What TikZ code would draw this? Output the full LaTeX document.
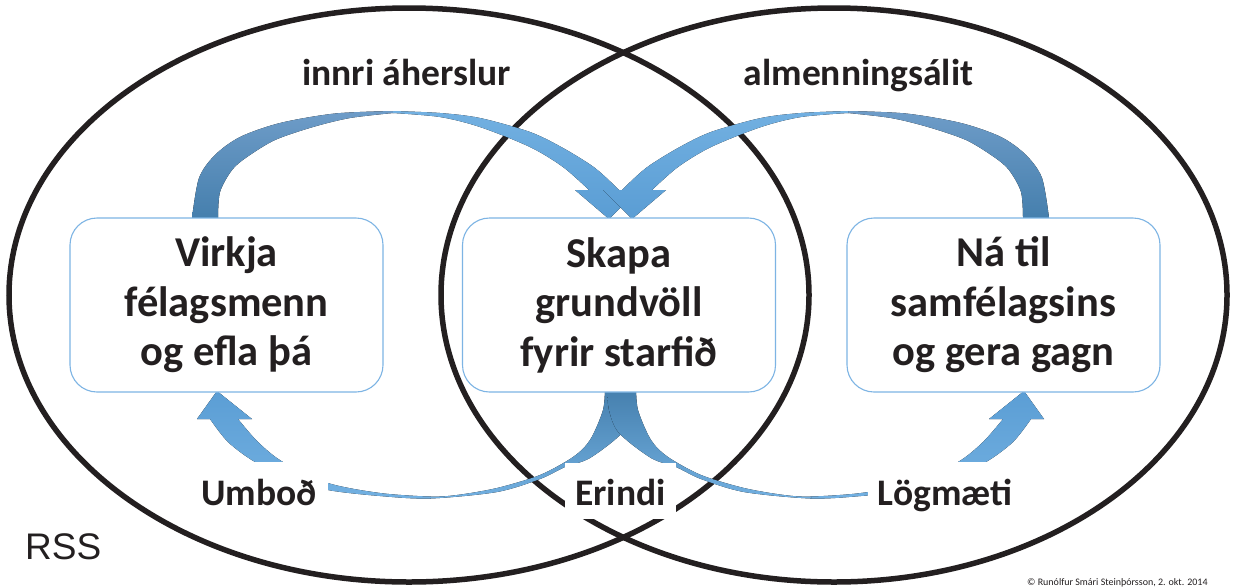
\documentclass[tikz,border=0pt]{standalone}
\usepackage{fontspec}
\setmainfont{Carlito}
\newfontfamily\rssfamily{Liberation Sans}
\definecolor{vennblack}{RGB}{35,31,32}
\definecolor{boxblue}{RGB}{125,180,228}
\definecolor{arrowdark}{RGB}{68,126,172}
\definecolor{arrowback}{RGB}{110,156,200}
\definecolor{arrowmid}{RGB}{90,157,212}
\definecolor{arrowlight}{RGB}{114,176,225}
\definecolor{textblack}{RGB}{35,31,32}

% top-left curved arrow (back part and front part)
\newcommand\tlbackpath{(192,222) -- plot[smooth] coordinates {(192,218) (199,178) (215,155) (240,137) (280,123) (335,113.5) (393,111)} -- plot[smooth] coordinates {(393,113) (350,118) (313,127) (275,140) (247,157) (232,170) (220,192) (218,218)} -- (218,222) -- cycle}
\newcommand\tlfrontpath{(393,111) -- plot[smooth] coordinates {(393,111) (440,113) (480,118) (530,132) (563,148) (595,168) (619,190)} -- (638,190) -- (609,219) -- (575,190) -- (589,190) -- plot[smooth] coordinates {(589,190) (563,167) (530,147) (480,127) (440,117) (393,113)} -- cycle}
% bottom-left curved arrow (from centre box down to the left box)
\newcommand\blbandpath{(634,386) -- plot[smooth] coordinates {(634,386) (632,410) (622,433) (590,458) (565,467) (540,479) (497,492) (430,498.5) (380,496) (328,490) (290,478) (255,462) (228,442) (210,419)} -- (197,419) -- (217,391) -- (252,419) -- (238,419) -- plot[smooth] coordinates {(238,419) (258,442) (283,462) (328,483) (380,493) (430,496.5) (457,495) (497,488) (540,475) (573,457) (590,440) (603,410) (605,386)} -- cycle}

\begin{document}
\begin{tikzpicture}[x=1pt,y=-1pt,
  venn/.style={draw=vennblack, line width=5.5pt},
  mainbox/.style={draw=boxblue, line width=1.1pt, fill=white, rounded corners=27pt,
    minimum width=313pt, minimum height=174pt, inner sep=0pt, align=center,
    font=\fontsize{42.5}{49.5}\selectfont\bfseries, text=textblack},
  toplabel/.style={font=\fontsize{37.5}{42}\selectfont\bfseries, text=textblack, anchor=base, inner sep=0pt},
  labelbox/.style={fill=white, inner sep=0pt, minimum height=56pt, text height=36pt, text depth=6pt,
    font=\fontsize{37.5}{42}\selectfont\bfseries, text=textblack}]
\useasboundingbox (0,0) rectangle (1238,587);
\fill[white] (0,0) rectangle (1238,587);

% the two sets
\draw[venn] (409,295) ellipse [x radius=400pt, y radius=287pt];
\draw[venn] (834,295) ellipse [x radius=393pt, y radius=287pt];

% left arrows
\fill[top color=arrowback, bottom color=arrowdark] \tlbackpath;
\fill[top color=arrowlight, bottom color=arrowmid] \tlfrontpath;
\begin{scope}
  \clip (150,380) rectangle (430.5,510);
  \fill[top color=arrowmid, bottom color=arrowlight] \blbandpath;
\end{scope}
\begin{scope}
  \clip (430,380) rectangle (700,510);
  \fill[top color=arrowdark, bottom color=arrowlight] \blbandpath;
\end{scope}

% right arrows (mirror images)
\begin{scope}[xshift=1241pt, xscale=-1]
  \fill[top color=arrowback, bottom color=arrowdark] \tlbackpath;
  \fill[top color=arrowlight, bottom color=arrowmid] \tlfrontpath;
  \begin{scope}
    \clip (150,380) rectangle (430.5,510);
    \fill[top color=arrowmid, bottom color=arrowlight] \blbandpath;
  \end{scope}
  \begin{scope}
    \clip (430,380) rectangle (700,510);
    \fill[top color=arrowdark, bottom color=arrowlight] \blbandpath;
  \end{scope}
\end{scope}

% boxes
\node[mainbox] (virkja) at (226.5,305) {Virkja\\félagsmenn\\og efla þá};
\node[mainbox] (skapa) at (619,305) {Skapa\\grundvöll\\fyrir starfið};
\node[mainbox] (na) at (1003.5,305) {Ná til\\samfélagsins\\og gera gagn};

% labels
\node[toplabel] (innri) at (406.5,85) {innri áherslur};
\node[toplabel] (almenn) at (858.5,85) {almenningsálit};
\node[labelbox, minimum width=138pt] (umbod) at (259,490) {Umboð};
\node[labelbox, minimum width=111pt] (erindi) at (620.5,490.5) {Erindi};
\node[labelbox, minimum width=154pt] (logm) at (945,490) {Lögmæti};

\node[anchor=base west, inner sep=0pt, font=\rssfamily\fontsize{37}{42}\selectfont, text=textblack] (rss) at (25,559) {RSS};
\node[anchor=base west, inner sep=0pt, font=\fontsize{10}{12}\selectfont, text=textblack] (copy) at (1027,585) {© Runólfur Smári Steinþórsson, 2. okt. 2014};
\end{tikzpicture}
\end{document}
